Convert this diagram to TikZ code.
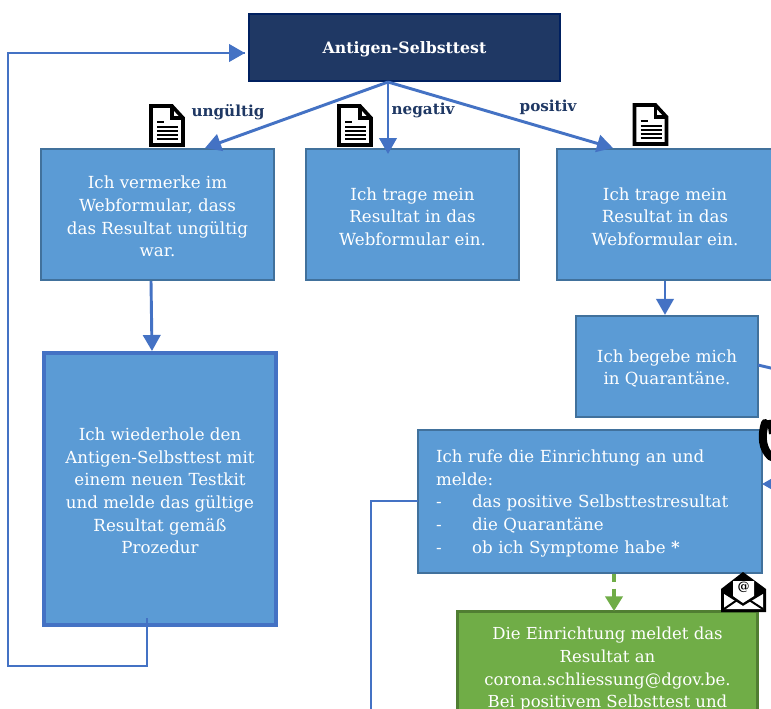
\documentclass[tikz,border=0pt]{standalone}
\usepackage{fontspec}
\setmainfont{DejaVu Serif}
\usetikzlibrary{arrows.meta}
\definecolor{navy}{HTML}{1F3864}
\definecolor{navyb}{HTML}{002060}
\definecolor{boxb}{HTML}{5B9BD5}
\definecolor{boxl}{HTML}{41719C}
\definecolor{link}{HTML}{4472C4}
\definecolor{grn}{HTML}{70AD47}
\definecolor{grnl}{HTML}{507E32}
\newcommand{\tup}{\rule{0pt}{12.5pt}}
\tikzset{
 x=0.75pt,y=-0.75pt,
 flow/.style={draw=boxl,line width=1.9pt,fill=boxb,text=white,inner sep=0pt,align=center,font=\fontsize{12.5}{17}\selectfont},
 conn/.style={draw=link,line width=2.2pt,-{Triangle[length=12pt,width=13pt]}},
 plainconn/.style={draw=link,line width=2.2pt},
 lbl/.style={text=navy,font=\fontsize{11.4}{13}\selectfont\bfseries},
 pics/docicon/.style={code={
   \draw[black,line width=2.7pt,fill=white,line join=miter] (0,0)--(21,0)--(32,12)--(32,39)--(0,39)--cycle;
   \draw[black,line width=2.4pt] (21,0)--(21,12)--(32,12);
   \foreach \yy/\xx in {16/13,21/27,25/27,29/27,33/27}{\draw[black,line width=1.5pt] (6,\yy)--(\xx,\yy);}
 }},
}
\newcommand{\lst}[1]{\makebox[27pt][l]{-}#1}
\begin{document}
\begin{tikzpicture}
\path[use as bounding box,clip] (0,0) rectangle (771,708);
\fill[white] (0,0) rectangle (771,708);
\node[draw=navyb,line width=1.9pt,fill=navy,text=white,minimum width=233pt,minimum height=50pt,font=\fontsize{11.8}{13}\selectfont\bfseries] (top) at (404.5,47.5) {\rule{0pt}{12pt}Antigen-Selbsttest};
\node[flow,minimum width=174.5pt,minimum height=98pt] (a) at (157.5,214.5) {\tup Ich vermerke im\\Webformular, dass\\das Resultat ungültig\\war.};
\node[flow,minimum width=159.5pt,minimum height=98pt] (b) at (412.5,214.5) {\tup Ich trage mein\\Resultat in das\\Webformular ein.};
\node[flow,minimum width=162pt,minimum height=98pt] (c) at (665,214.5) {\tup Ich trage mein\\Resultat in das\\Webformular ein.};
\node[flow,minimum width=136.5pt,minimum height=75.5pt] (d) at (667,366.5) {\tup Ich begebe mich\\in Quarantäne.};
\node[flow,minimum width=258pt,minimum height=107pt,align=left,text width=231pt] (e) at (590,501.5) {\tup Ich rufe die Einrichtung an und\\melde:\\\lst{das positive Selbsttestresultat}\\\lst{die Quarantäne}\\\lst{ob ich Symptome habe \textbf{*}}};
\node[flow,draw=grnl,line width=2.2pt,fill=grn,minimum width=225.5pt,minimum height=150pt,anchor=north] (f) at (607.5,610) {};
\node[text=white,align=center,anchor=north,inner sep=0pt,font=\fontsize{12.4}{17}\selectfont] (ftext) at (607.5,627) {Die Einrichtung meldet das\\Resultat an\\corona.schliessung@dgov.be.\\Bei positivem Selbsttest und};
\node[flow,draw=link,line width=3pt,minimum width=174.5pt,minimum height=204pt] (g) at (160,489) {\tup Ich wiederhole den\\Antigen-Selbsttest mit\\einem neuen Testkit\\und melde das gültige\\Resultat gemäß\\Prozedur};
\coordinate (out) at (388,82);
\coordinate (ina) at (205,148);
\coordinate (inb) at (388,154);
\coordinate (inc) at (613,148);
\coordinate (gout) at (147,618);
\coordinate (c1) at (147,666);
\coordinate (c2) at (8,666);
\coordinate (c3) at (8,53);
\coordinate (topin) at (245,53);
\coordinate (eleft) at (418,501);
\coordinate (el1) at (371,501);
\coordinate (el2) at (371,720);
\coordinate (dright) at (758,365);
\coordinate (dr2) at (775,369);
\coordinate (er1) at (775,484);
\coordinate (er2) at (762,484);
\draw[conn] (out) -- (ina);
\draw[conn] (out) -- (inb);
\draw[conn] (out) -- (inc);
\draw[conn] (a.south -| 151,0) -- (g.north -| 152,0);
\draw[conn] (c.south) -- (d.north -| c.south);
\draw[plainconn,line join=miter] (gout) -- (c1) -- (c2) -- (c3) -- (topin);
\draw[conn] (c3) -- (topin);
\draw[plainconn,line join=miter] (eleft) -- (el1) -- (el2);
\draw[plainconn] (dright) -- (dr2);
\draw[conn] (er1) -- (er2);
\draw[draw=grn,line width=2.3pt,dash pattern=on 6pt off 5pt] (614,574) -- (614,600);
\draw[draw=grn,line width=2.3pt,-{Triangle[length=11pt,width=13pt]}] (614,598) -- (614,611);
\node[lbl] (l1) at (228,112) {ungültig};
\node[lbl] (l2) at (423,110) {negativ};
\node[lbl] (l3) at (548,107) {positiv};
\pic at (151,106) {docicon};
\pic at (339,106) {docicon};
\pic at (634.5,105) {docicon};
% envelope
\fill[black] (721,589)--(743,572)--(766,589)--(766,612)--(721,612)--cycle;
\fill[white] (724,594)--(743,606)--(763,594)--(763,609)--(724,609)--cycle;
\draw[black,line width=1.5pt] (724,609)--(743,596)--(763,609);
\fill[white] (733,581)--(754,581)--(754,596)--(743,603)--(733,596)--cycle;
\node[inner sep=0pt,font=\fontsize{9}{9}\selectfont\bfseries] (at) at (743.5,587) {\char`\@};
% phone
\draw[black,line width=6pt,line cap=round] (765,423) .. controls (761,436) and (762,449) .. (771,457);
\draw[black,line width=3pt] (769,420)--(771,434);
\end{tikzpicture}
\end{document}
